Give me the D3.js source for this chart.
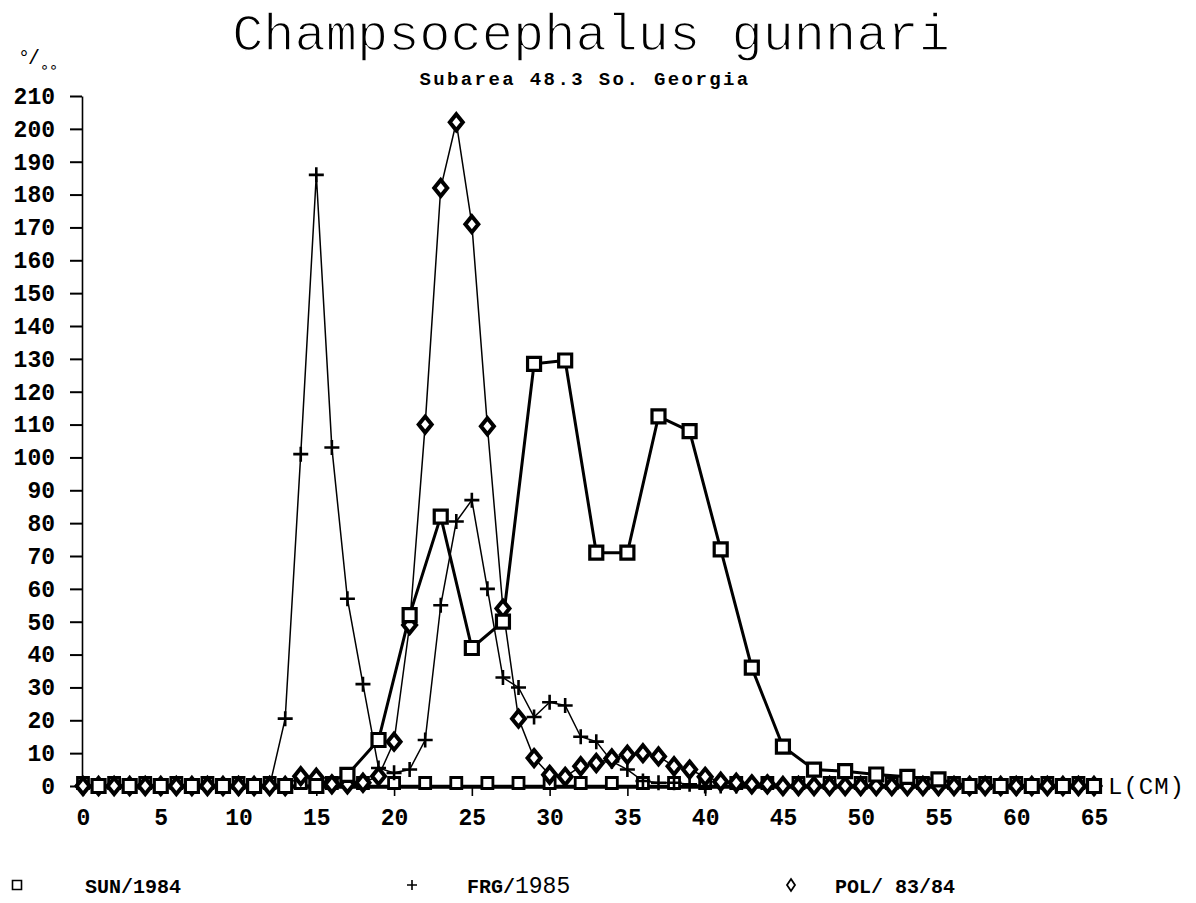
<!DOCTYPE html>
<html>
<head>
<meta charset="utf-8">
<script src="https://cdn.jsdelivr.net/npm/d3@7"></script>
<style>
  body { margin: 0; background: #fff; }
  svg { display: block; }
</style>
</head>
<body>
<div id="chart-area"></div>
<script>
// length classes (cm) and per-mille frequencies
var lengths = [0,1,2,3,4,5,6,7,8,9,10,11,12,13,14,15,16,17,18,19,20,21,22,23,24,25,26,27,28,29,30,31,32,
  33,34,35,36,37,38,39,40,41,42,43,44,45,46,47,48,49,50,51,52,53,54,55,56,57,58,59,60,61,62,63,64,65];

var frgValues = [0,0,0,0,0,0,0,0,0,0,0,0,0,20.5,101,186,103,57,31,5.5,4,5,14,55,80.5,87,60,33,30,21,25.5,24.5,15,
  13.5,7.5,5,1.5,1,1,0.5,0,0,0,0,0,0,0,0,0,0,0,0,0,0,0,0,0,0,0,0,0,0,0,0,0,0];

var polValues = [0,0,0,0,0,0,0,0,0,0,0,0,0,0,3,2.5,0.5,0.5,1,3,13.5,49,110,182,202,171,109.5,54,20.5,8.5,3.4,2.8,6,
  7,8.4,9.5,10,9,6,5,2.8,1.3,1,0.5,0.5,0,0,0,0,0,0,0,0,0,0,0,0,0,0,0,0,0,0,0,0,0];

// SUN/1984 uses 2 cm classes
var sunLengths = [1,3,5,7,9,11,13,15,17,19,21,23,25,27,29,31,33,35,37,39,41,43,45,47,49,51,53,55,57,59,61,63,65];
var sunValues = [0,0,0,0,0,0,0,0,3.4,14,52,82,42,50,128.5,129.5,71,71,112.5,108,72,36,12,5,4.5,3.5,2.8,2,0,0,0,0,0];

// empty squares sitting on the zero line between the SUN classes
var sunZeroLengths = [0,2,4,6,8,10,12,14,16,18,20,22,24,26,28,30,32,34,36,38,40,42,44,46,48,50,52,54,56,58,60,62,64];
var sunZeroValues = [0,0,0,0,0,0,0,0,0,0,0,0,0,0,0,0,0,0,0,0,0,0,0,0,0,0,0,0,0,0,0,0,0];

var xTicks = [0,5,10,15,20,25,30,35,40,45,50,55,60,65];
var yTicks = [0,10,20,30,40,50,60,70,80,90,100,110,120,130,140,150,160,170,180,190,200,210];

var legendNames = ["SUN/", "FRG/", "POL/ "];
var legendYears = ["1984", "1985", "83/84"];

var svg = d3.select("#chart-area").append("svg")
    .attr("width", 1196)
    .attr("height", 903);

var x = d3.scaleLinear().domain([0, 65]).range([83, 1094]);
var y = d3.scaleLinear().domain([0, 210]).range([786, 96]);

var mono = "'Liberation Mono', 'DejaVu Sans Mono', monospace";

// title (white stroke thins the glyphs like the plotter pen)
svg.append("text")
    .attr("x", 591).attr("y", 50)
    .attr("text-anchor", "middle")
    .style("font-family", mono)
    .style("font-size", "52px")
    .attr("stroke", "#fff")
    .attr("stroke-width", 1.4)
    .text("Champsocephalus gunnari");

svg.append("text")
    .attr("x", 585).attr("y", 85)
    .attr("text-anchor", "middle")
    .style("font-family", mono)
    .style("font-size", "19px")
    .style("font-weight", "bold")
    .style("letter-spacing", "2.4px")
    .text("Subarea 48.3 So. Georgia");

// per-mille unit label
var unit = svg.append("text")
    .attr("x", 18).attr("y", 64)
    .style("font-family", mono)
    .style("font-size", "20px");
unit.append("tspan").text("°");
unit.append("tspan").attr("dx", -2).text("/");
unit.append("tspan").attr("dx", 0).attr("dy", 8).style("font-size", "15px").text("∘∘");

// y axis
var yAxis = svg.append("g")
    .attr("transform", "translate(82,0)")
    .call(d3.axisLeft(y).tickValues(yTicks).tickSize(12).tickSizeOuter(0).tickPadding(15));
yAxis.select(".domain").attr("stroke-width", 1.6);
yAxis.selectAll(".tick line").attr("stroke-width", 2);
yAxis.selectAll(".tick text")
    .style("font-family", mono)
    .style("font-size", "23px")
    .style("font-weight", "bold")
    .attr("fill", "#000");

// x axis
var xAxis = svg.append("g")
    .attr("transform", "translate(0,787)")
    .call(d3.axisBottom(x).tickValues(xTicks).tickSize(9).tickSizeOuter(0).tickPadding(13));
xAxis.select(".domain").attr("stroke-width", 2.6);
xAxis.selectAll(".tick line").attr("stroke-width", 1.6);
xAxis.selectAll(".tick text")
    .style("font-family", mono)
    .style("font-size", "23px")
    .style("font-weight", "bold")
    .attr("fill", "#000");

svg.append("text")
    .attr("x", 1108).attr("y", 794)
    .style("font-family", mono)
    .style("font-size", "24px")
    .style("letter-spacing", "1px")
    .text("L(CM)");

// marker shapes
function squarePath(s) { return "M" + (-s) + "," + (-s) + "h" + (2 * s) + "v" + (2 * s) + "h" + (-2 * s) + "Z"; }
function plusPath(s) { return "M" + (-s) + ",0h" + (2 * s) + "M0," + (-s) + "v" + (2 * s); }
function diamondPath(w, h) { return "M0," + (-h) + "L" + w + ",0L0," + h + "L" + (-w) + ",0Z"; }

function makeSeries(xs, ys) {
    return xs.map(function(d, i) { return { len: d, val: ys[i] }; });
}

var line = d3.line().x(function(d) { return x(d.len); }).y(function(d) { return y(d.val); });

var frg = makeSeries(lengths, frgValues);
var pol = makeSeries(lengths, polValues);
var sun = makeSeries(sunLengths, sunValues);
var sunZero = makeSeries(sunZeroLengths, sunZeroValues);

// lines
svg.append("path").datum(frg).attr("d", line)
    .attr("fill", "none").attr("stroke", "#000").attr("stroke-width", 1.5);
svg.append("path").datum(pol).attr("d", line)
    .attr("fill", "none").attr("stroke", "#000").attr("stroke-width", 1.5);
svg.append("path").datum(sunZero).attr("d", line)
    .attr("fill", "none").attr("stroke", "#000").attr("stroke-width", 2.4);
svg.append("path").datum(sun).attr("d", line)
    .attr("fill", "none").attr("stroke", "#000").attr("stroke-width", 3);

// markers
svg.append("g").selectAll("path").data(sunZero).join("path")
    .attr("transform", function(d) { return "translate(" + x(d.len) + "," + (y(d.val) - 3) + ")"; })
    .attr("d", squarePath(5.5))
    .attr("fill", "#fff").attr("stroke", "#000").attr("stroke-width", 2.8);

svg.append("g").selectAll("path").data(frg).join("path")
    .attr("transform", function(d) { return "translate(" + x(d.len) + "," + y(d.val) + ")"; })
    .attr("d", plusPath(7.5))
    .attr("fill", "none").attr("stroke", "#000").attr("stroke-width", 2.6);

svg.append("g").selectAll("path").data(pol).join("path")
    .attr("transform", function(d) { return "translate(" + x(d.len) + "," + y(d.val) + ")"; })
    .attr("d", diamondPath(6.5, 8))
    .attr("fill", "#fff").attr("stroke", "#000").attr("stroke-width", 4);

svg.append("g").selectAll("path").data(sun).join("path")
    .attr("transform", function(d) { return "translate(" + x(d.len) + "," + y(d.val) + ")"; })
    .attr("d", squarePath(6.5))
    .attr("fill", "#fff").attr("stroke", "#000").attr("stroke-width", 3.2);

// legend
var legendX = [17, 412, 791];
var legendTextX = [85, 467, 835];
var legend = svg.append("g");

legend.append("path")
    .attr("transform", "translate(" + legendX[0] + ",885)")
    .attr("d", squarePath(4.5))
    .attr("fill", "#fff").attr("stroke", "#000").attr("stroke-width", 1.6);
legend.append("path")
    .attr("transform", "translate(" + legendX[1] + ",885)")
    .attr("d", plusPath(5))
    .attr("fill", "none").attr("stroke", "#000").attr("stroke-width", 1.6);
legend.append("path")
    .attr("transform", "translate(" + legendX[2] + ",885)")
    .attr("d", diamondPath(4, 6))
    .attr("fill", "#fff").attr("stroke", "#000").attr("stroke-width", 1.8);

legendNames.forEach(function(name, i) {
    var t = legend.append("text")
        .attr("x", legendTextX[i]).attr("y", 893)
        .style("font-family", mono)
        .style("font-size", "20px");
    t.append("tspan").style("font-weight", "bold").text(name);
    t.append("tspan")
        .style("font-weight", i === 1 ? "normal" : "bold")
        .style("font-size", i === 1 ? "23px" : "20px")
        .text(legendYears[i]);
});
</script>
</body>
</html>
